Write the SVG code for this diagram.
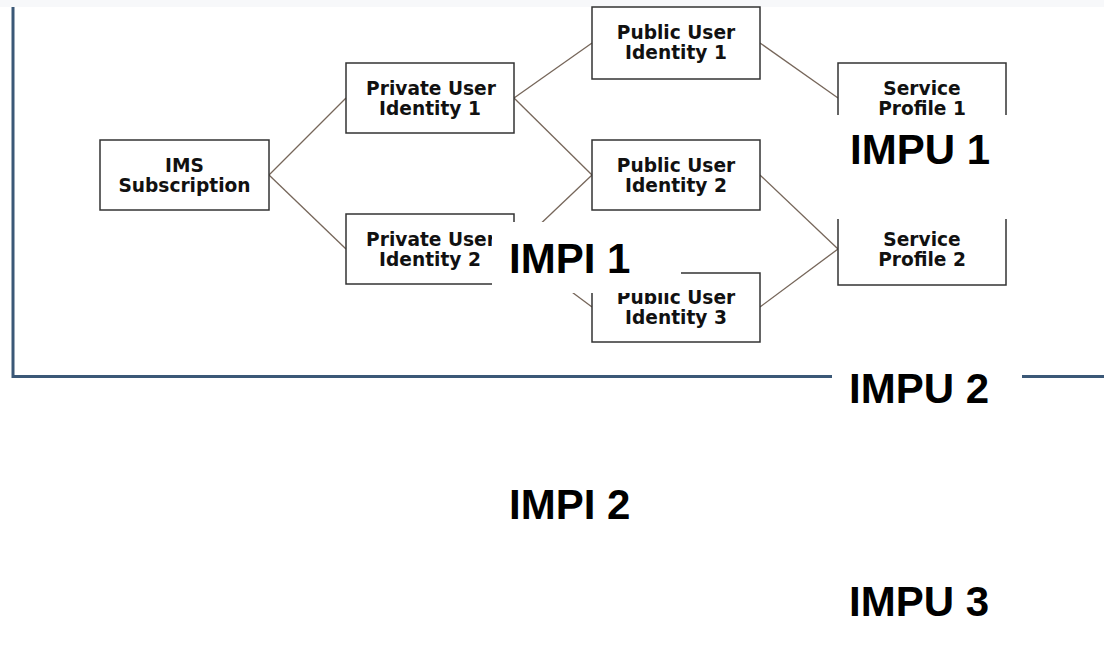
<svg xmlns="http://www.w3.org/2000/svg" width="1104" height="656" viewBox="0 0 1104 656">
  <style>
    .box { fill: #ffffff; stroke: #333333; stroke-width: 1.5; }
    .nt { font-family: "DejaVu Sans", "Open Sans", sans-serif; font-weight: 700; font-size: 18.6px; fill: #111111; text-anchor: middle; }
    .conn { stroke: #76665a; stroke-width: 1.3; fill: none; }
    .frame { stroke: #3b5877; stroke-width: 3; fill: none; }
    .lbl { font-family: "Liberation Sans", Arial, sans-serif; font-weight: 700; font-size: 42px; fill: #000000; }
    .mask { fill: #ffffff; }
  </style>
  <rect x="0" y="0" width="1104" height="656" fill="#ffffff"/>
  <rect x="0" y="0" width="1104" height="7" fill="#f7f8fa"/>
  <g id="frame">
    <path class="frame" d="M13,7 V376.5 H1104"/>
  </g>
  <g id="connectors">
    <line class="conn" x1="269" y1="175" x2="346" y2="98"/>
    <line class="conn" x1="269" y1="175" x2="346" y2="249"/>
    <line class="conn" x1="514" y1="98" x2="592" y2="43"/>
    <line class="conn" x1="514" y1="98" x2="592" y2="175"/>
    <line class="conn" x1="514" y1="249" x2="592" y2="175"/>
    <line class="conn" x1="514" y1="249" x2="592" y2="307"/>
    <line class="conn" x1="760" y1="43" x2="838" y2="98"/>
    <line class="conn" x1="760" y1="175" x2="838" y2="249"/>
    <line class="conn" x1="760" y1="307" x2="838" y2="249"/>
  </g>
  <g id="ims-subscription">
    <rect class="box" x="100" y="140" width="169" height="70"/>
    <text class="nt" x="184.5" y="172">IMS</text>
    <text class="nt" x="184.5" y="192">Subscription</text>
  </g>
  <g id="private-user-identity-1">
    <rect class="box" x="346" y="63" width="168" height="70"/>
    <text class="nt" x="431" y="95">Private User</text>
    <text class="nt" x="430" y="115">Identity 1</text>
  </g>
  <g id="private-user-identity-2">
    <rect class="box" x="346" y="214" width="168" height="70"/>
    <text class="nt" x="431" y="246">Private User</text>
    <text class="nt" x="430" y="266">Identity 2</text>
  </g>
  <g id="public-user-identity-1">
    <rect class="box" x="592" y="7" width="168" height="72"/>
    <text class="nt" x="676" y="39">Public User</text>
    <text class="nt" x="676" y="59">Identity 1</text>
  </g>
  <g id="public-user-identity-2">
    <rect class="box" x="592" y="140" width="168" height="70"/>
    <text class="nt" x="676" y="172">Public User</text>
    <text class="nt" x="676" y="192">Identity 2</text>
  </g>
  <g id="public-user-identity-3">
    <rect class="box" x="592" y="273" width="168" height="69"/>
    <text class="nt" x="676" y="304">Public User</text>
    <text class="nt" x="676" y="324">Identity 3</text>
  </g>
  <g id="service-profile-1">
    <rect class="box" x="838" y="63" width="168" height="70"/>
    <text class="nt" x="922" y="95">Service</text>
    <text class="nt" x="922" y="115">Profile 1</text>
  </g>
  <g id="service-profile-2">
    <rect class="box" x="838" y="215" width="168" height="70"/>
    <text class="nt" x="922" y="246">Service</text>
    <text class="nt" x="922" y="266">Profile 2</text>
  </g>
  <g id="label-impu-1">
    <rect class="mask" x="835" y="115" width="176" height="104"/>
    <text class="lbl" x="850" y="164">IMPU 1</text>
  </g>
  <g id="label-impi-1">
    <rect class="mask" x="492" y="222" width="189" height="71"/>
    <text class="lbl" x="509" y="273">IMPI 1</text>
  </g>
  <g id="label-impu-2">
    <rect class="mask" x="832" y="360" width="190" height="50"/>
    <text class="lbl" x="849" y="403">IMPU 2</text>
  </g>
  <g id="label-impi-2">
    <text class="lbl" x="509" y="519">IMPI 2</text>
  </g>
  <g id="label-impu-3">
    <text class="lbl" x="849" y="616">IMPU 3</text>
  </g>
</svg>
